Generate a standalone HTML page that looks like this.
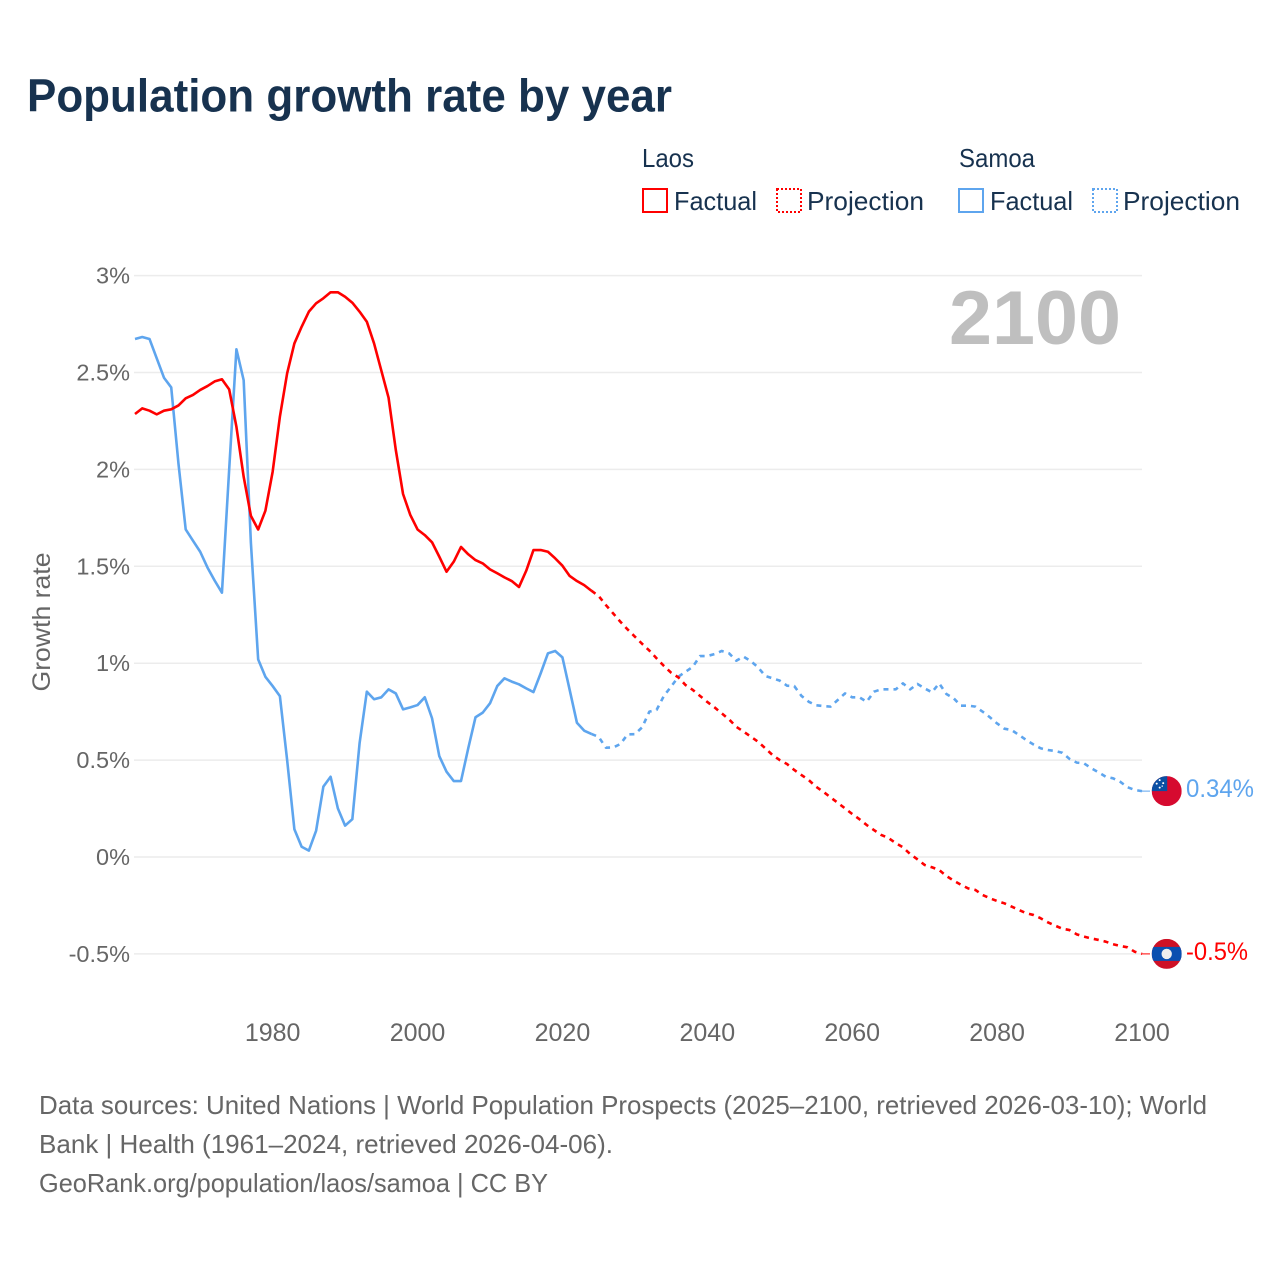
<!DOCTYPE html>
<html lang="en">
<head>
<meta charset="utf-8">
<title>Population growth rate by year</title>
<style>
html,body{margin:0;padding:0;background:#fff;}
svg{display:block;font-family:"Liberation Sans",sans-serif;}
</style>
</head>
<body>
<svg id="chart" width="1280" height="1280" viewBox="0 0 1280 1280" xmlns="http://www.w3.org/2000/svg">
  <rect width="1280" height="1280" fill="#fff"/>
  <text x="27" y="111.5" font-size="46" font-weight="700" fill="#17324f" textLength="645" lengthAdjust="spacingAndGlyphs">Population growth rate by year</text>

  <g font-size="26" fill="#17324f">
    <text x="642" y="167" textLength="52" lengthAdjust="spacingAndGlyphs">Laos</text>
    <text x="959" y="167" textLength="76" lengthAdjust="spacingAndGlyphs">Samoa</text>
    <rect x="643" y="189" width="24" height="23" fill="none" stroke="#ff0000" stroke-width="2"/>
    <text x="674" y="210" textLength="83" lengthAdjust="spacingAndGlyphs">Factual</text>
    <rect x="777" y="189" width="24" height="23" fill="none" stroke="#ff0000" stroke-width="2" stroke-dasharray="2 2"/>
    <text x="807" y="210" textLength="117" lengthAdjust="spacingAndGlyphs">Projection</text>
    <rect x="959" y="189" width="24" height="23" fill="none" stroke="#5ea5ee" stroke-width="2"/>
    <text x="990" y="210" textLength="83" lengthAdjust="spacingAndGlyphs">Factual</text>
    <rect x="1093" y="189" width="24" height="23" fill="none" stroke="#5ea5ee" stroke-width="2" stroke-dasharray="2 2"/>
    <text x="1123" y="210" textLength="117" lengthAdjust="spacingAndGlyphs">Projection</text>
  </g>

  <g id="grid"></g>
  <g id="yTicks" font-size="23.5" fill="#666" text-anchor="end"></g>
  <g id="xTicks" font-size="25" fill="#666" text-anchor="middle"></g>
  <text transform="translate(50,622) rotate(-90)" font-size="25" fill="#666" text-anchor="middle" textLength="139" lengthAdjust="spacingAndGlyphs">Growth rate</text>
  <text x="949" y="344" font-size="76" font-weight="700" fill="#bfbfbf" textLength="172" lengthAdjust="spacingAndGlyphs">2100</text>

  <g id="series"></g>

  <g id="flagSamoa">
    <clipPath id="clipS"><circle cx="0" cy="0" r="15"/></clipPath>
    <g clip-path="url(#clipS)">
      <rect x="-15" y="-15" width="30" height="30" fill="#d60a2f"/>
      <rect x="-15" y="-15" width="15.5" height="15" fill="#0a4fa3"/>
      <circle cx="-7" cy="-11" r="1" fill="#fff"/>
      <circle cx="-3.5" cy="-8" r="1" fill="#fff"/>
      <circle cx="-10" cy="-7.5" r="1" fill="#fff"/>
      <circle cx="-7" cy="-3.5" r="1" fill="#fff"/>
      <circle cx="-4.5" cy="-5" r=".7" fill="#fff"/>
    </g>
  </g>
  <g id="flagLaos">
    <clipPath id="clipL"><circle cx="0" cy="0" r="15"/></clipPath>
    <g clip-path="url(#clipL)">
      <rect x="-15" y="-15" width="30" height="30" fill="#ce1126"/>
      <rect x="-15" y="-7" width="30" height="14" fill="#0a4fb0"/>
      <circle cx="0" cy="0" r="5.2" fill="#eee"/>
    </g>
  </g>
  <text x="1186" y="797" font-size="25" fill="#5ea5ee" textLength="68" lengthAdjust="spacingAndGlyphs">0.34%</text>
  <text x="1186" y="960" font-size="25" fill="#ff0000" textLength="62" lengthAdjust="spacingAndGlyphs">-0.5%</text>

  <g font-size="26" fill="#666">
    <text x="39" y="1114" textLength="1168" lengthAdjust="spacingAndGlyphs">Data sources: United Nations | World Population Prospects (2025–2100, retrieved 2026-03-10); World</text>
    <text x="39" y="1153" textLength="574" lengthAdjust="spacingAndGlyphs">Bank | Health (1961–2024, retrieved 2026-04-06).</text>
    <text x="39" y="1192" textLength="509" lengthAdjust="spacingAndGlyphs">GeoRank.org/population/laos/samoa | CC BY</text>
  </g>
</svg>
<script>
const yTickValues = [3, 2.5, 2, 1.5, 1, 0.5, 0, -0.5];
const yTickLabels = ["3%", "2.5%", "2%", "1.5%", "1%", "0.5%", "0%", "-0.5%"];
const xTickYears = [1980, 2000, 2020, 2040, 2060, 2080, 2100];
const factualStartYear = 1961;
const projectionStartYear = 2024;

const laosFactual = [2.286,2.315,2.303,2.284,2.303,2.31,2.33,2.367,2.384,2.41,2.43,2.454,2.465,2.413,2.22,1.962,1.76,1.69,1.787,1.988,2.272,2.496,2.65,2.736,2.814,2.857,2.883,2.914,2.914,2.891,2.86,2.814,2.762,2.65,2.51,2.37,2.10,1.873,1.765,1.69,1.661,1.624,1.55,1.472,1.524,1.60,1.562,1.532,1.515,1.484,1.464,1.443,1.424,1.393,1.477,1.584,1.584,1.575,1.541,1.503,1.45,1.424,1.403,1.374];

const laosProjection = [1.374,1.347,1.30,1.257,1.214,1.174,1.137,1.10,1.065,1.025,0.986,0.951,0.927,0.887,0.862,0.831,0.80,0.772,0.741,0.71,0.672,0.647,0.621,0.595,0.561,0.526,0.50,0.48,0.449,0.423,0.397,0.363,0.337,0.308,0.28,0.251,0.222,0.195,0.165,0.139,0.114,0.098,0.072,0.05,0.015,-0.012,-0.041,-0.053,-0.067,-0.098,-0.122,-0.143,-0.162,-0.17,-0.196,-0.213,-0.227,-0.239,-0.256,-0.273,-0.29,-0.299,-0.316,-0.337,-0.354,-0.37,-0.377,-0.399,-0.411,-0.42,-0.428,-0.437,-0.45,-0.459,-0.466,-0.489,-0.5];

const samoaFactual = [2.673,2.683,2.673,2.573,2.473,2.423,2.03,1.69,1.632,1.575,1.494,1.426,1.364,2.0,2.62,2.46,1.62,1.02,0.93,0.882,0.83,0.50,0.143,0.053,0.033,0.136,0.363,0.414,0.251,0.162,0.195,0.587,0.853,0.814,0.824,0.865,0.844,0.762,0.772,0.784,0.824,0.716,0.521,0.44,0.392,0.392,0.561,0.721,0.745,0.793,0.882,0.922,0.905,0.891,0.87,0.851,0.948,1.051,1.063,1.03,0.862,0.693,0.652,0.635];

const samoaProjection = [0.635,0.62,0.564,0.565,0.583,0.633,0.634,0.669,0.75,0.759,0.831,0.879,0.93,0.956,0.982,1.037,1.037,1.047,1.063,1.051,1.013,1.034,1.011,0.979,0.934,0.922,0.91,0.884,0.882,0.831,0.801,0.783,0.779,0.776,0.81,0.844,0.824,0.824,0.801,0.853,0.865,0.865,0.865,0.896,0.865,0.893,0.87,0.85,0.896,0.841,0.819,0.781,0.781,0.776,0.75,0.721,0.689,0.662,0.655,0.63,0.604,0.581,0.561,0.552,0.547,0.538,0.506,0.487,0.483,0.458,0.437,0.414,0.406,0.388,0.36,0.346,0.34];

const SVGNS = "http://www.w3.org/2000/svg";
function xScale(year) { return 135 + (year - 1961) * (1142 - 135) / (2100 - 1961); }
function yScale(v) { return 857 - v * 193.8; }

const gridG = document.getElementById("grid");
const yG = document.getElementById("yTicks");
yTickValues.forEach(function (v, i) {
  const ln = document.createElementNS(SVGNS, "line");
  ln.setAttribute("x1", 134);
  ln.setAttribute("x2", 1142);
  ln.setAttribute("y1", yScale(v));
  ln.setAttribute("y2", yScale(v));
  ln.setAttribute("stroke", "#ececec");
  ln.setAttribute("stroke-width", "1.5");
  
  
  gridG.appendChild(ln);
  const t = document.createElementNS(SVGNS, "text");
  t.setAttribute("x", 130);
  t.setAttribute("y", yScale(v) + 8);
  t.textContent = yTickLabels[i];
  
  
  yG.appendChild(t);
});

const xG = document.getElementById("xTicks");
xTickYears.forEach(function (yr) {
  const t = document.createElementNS(SVGNS, "text");
  t.setAttribute("x", xScale(yr));
  t.setAttribute("y", 1041);
  t.textContent = String(yr);
  
  
  xG.appendChild(t);
});

const seriesG = document.getElementById("series");
function pathFor(values, startYear) {
  return values.map(function (v, i) {
    return (i ? "L" : "M") + xScale(startYear + i).toFixed(2) + " " + yScale(v).toFixed(2);
  }).join(" ");
}
function addLine(values, startYear, color, dashed, name) {
  const p = document.createElementNS(SVGNS, "path");
  p.setAttribute("d", pathFor(values, startYear));
  p.setAttribute("fill", "none");
  p.setAttribute("stroke", color);
  p.setAttribute("stroke-width", "2.6");
  p.setAttribute("stroke-linejoin", "round");
  if (dashed) p.setAttribute("stroke-dasharray", "5 5");
  
  
  seriesG.appendChild(p);
}
addLine(samoaFactual, factualStartYear, "#5ea5ee", false, "samoa-factual-line");
addLine(samoaProjection, projectionStartYear, "#5ea5ee", true, "samoa-projection-line");
addLine(laosFactual, factualStartYear, "#ff0000", false, "laos-factual-line");
addLine(laosProjection, projectionStartYear, "#ff0000", true, "laos-projection-line");

function addEnd(values, color, flagId, connectorName) {
  const last = values[values.length - 1];
  const ln = document.createElementNS(SVGNS, "line");
  ln.setAttribute("x1", xScale(2100));
  ln.setAttribute("x2", xScale(2100) + 8);
  ln.setAttribute("y1", yScale(last));
  ln.setAttribute("y2", yScale(last));
  ln.setAttribute("stroke", color);
  ln.setAttribute("stroke-width", "1");
  
  
  seriesG.appendChild(ln);
  document.getElementById(flagId).setAttribute("transform", "translate(" + (xScale(2100) + 24.7) + "," + yScale(last) + ")");
}
addEnd(samoaProjection, "#5ea5ee", "flagSamoa", "samoa-end-connector");
addEnd(laosProjection, "#ff0000", "flagLaos", "laos-end-connector");
</script>
</body>
</html>
